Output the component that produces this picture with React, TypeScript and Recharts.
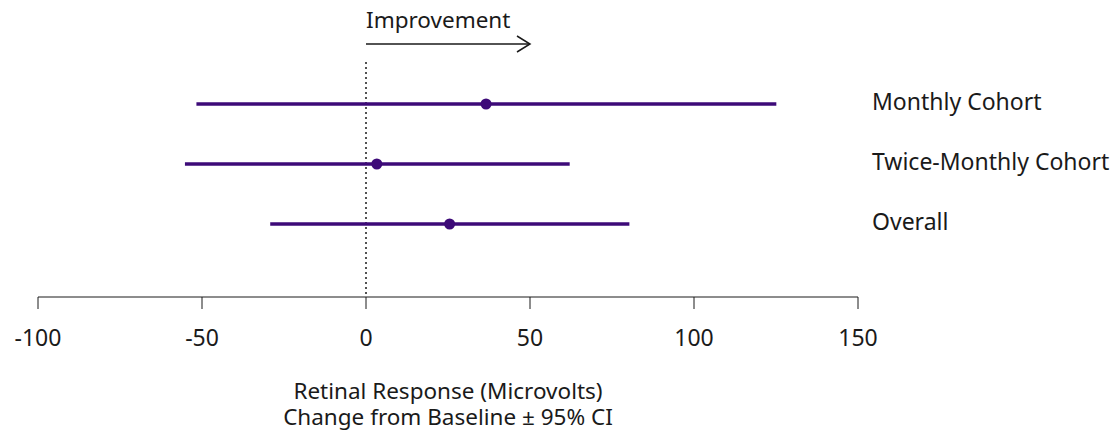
import React from 'react';
import {
  ComposedChart,
  Scatter,
  ErrorBar,
  XAxis,
  YAxis,
  ReferenceLine,
} from 'recharts';

const groups = ['Monthly Cohort', 'Twice-Monthly Cohort', 'Overall'];
const estimates = [36.6, 3.3, 25.5];
const lower = [-51.7, -55.2, -29.2];
const upper = [125.1, 62.1, 80.3];
const xTicks = [-100, -50, 0, 50, 100, 150];

const PURPLE = '#3d0a78';
const INK = '#1a1a1a';
const FONT = '"Noto Sans", "Open Sans", sans-serif';

const data = groups.map((name, i) => ({
  name,
  row: i + 1,
  est: estimates[i],
  ci: [estimates[i] - lower[i], upper[i] - estimates[i]],
}));

const ImprovementArrow = (props: any) => {
  const { x1, y1, x2, y2 } = props;
  return (
    <g>
      <line x1={x1} y1={y1} x2={x2} y2={y2} stroke={INK} strokeWidth={1.5} />
      <polyline
        points={`${x2 - 13},${y2 - 8} ${x2},${y2} ${x2 - 13},${y2 + 8}`}
        fill="none"
        stroke={INK}
        strokeWidth={1.5}
      />
      <text x={x1} y={y1 - 16} fill={INK} fontSize={22.5} fontFamily={FONT}>
        Improvement
      </text>
    </g>
  );
};

const AxisTitle = (props: any) => {
  const { viewBox } = props;
  const cx = viewBox.x + viewBox.width / 2;
  return (
    <g fill={INK} fontSize={22.5} fontFamily={FONT}>
      <text x={cx} y={399} textAnchor="middle">Retinal Response (Microvolts)</text>
      <text x={cx} y={425} textAnchor="middle">Change from Baseline ± 95% CI</text>
    </g>
  );
};

export default function App() {
  return (
    <div style={{ position: 'absolute', left: 0, top: 0, background: '#fff' }}>
      <ComposedChart
        width={1114}
        height={431}
        data={data}
        margin={{ top: 44, right: 0, bottom: 0, left: 38 }}
      >
        <XAxis
          type="number"
          dataKey="est"
          domain={[-100, 150]}
          ticks={xTicks}
          height={134}
          tickSize={12}
          tickMargin={21}
          stroke={INK}
          tick={{ fill: INK, fontSize: 23, fontFamily: FONT }}
          label={<AxisTitle />}
        />
        <YAxis
          type="number"
          dataKey="row"
          orientation="right"
          domain={[0, 4.2167]}
          reversed
          ticks={[1, 2, 3]}
          tickFormatter={(v: number) => groups[v - 1]}
          width={256}
          axisLine={false}
          tickLine={false}
          tickSize={6}
          tickMargin={8}
          tick={{ fill: INK, fontSize: 23, fontFamily: FONT, textAnchor: 'start', dy: -2 }}
        />
        <ReferenceLine
          segment={[{ x: 0, y: 0.3 }, { x: 0, y: 4.2167 }]}
          stroke={INK}
          strokeWidth={1.5}
          strokeDasharray="2 3"
        />
        <ReferenceLine
          segment={[{ x: 0, y: 0 }, { x: 50, y: 0 }]}
          shape={<ImprovementArrow />}
        />
        <Scatter dataKey="est" fill={PURPLE} isAnimationActive={false} shape={(p: any) => (
          <circle cx={p.cx} cy={p.cy} r={5.5} fill={PURPLE} />
        )}>
          <ErrorBar
            dataKey="ci"
            direction="x"
            width={0}
            stroke={PURPLE}
            strokeWidth={3.5}
            isAnimationActive={false}
          />
        </Scatter>
      </ComposedChart>
    </div>
  );
}
